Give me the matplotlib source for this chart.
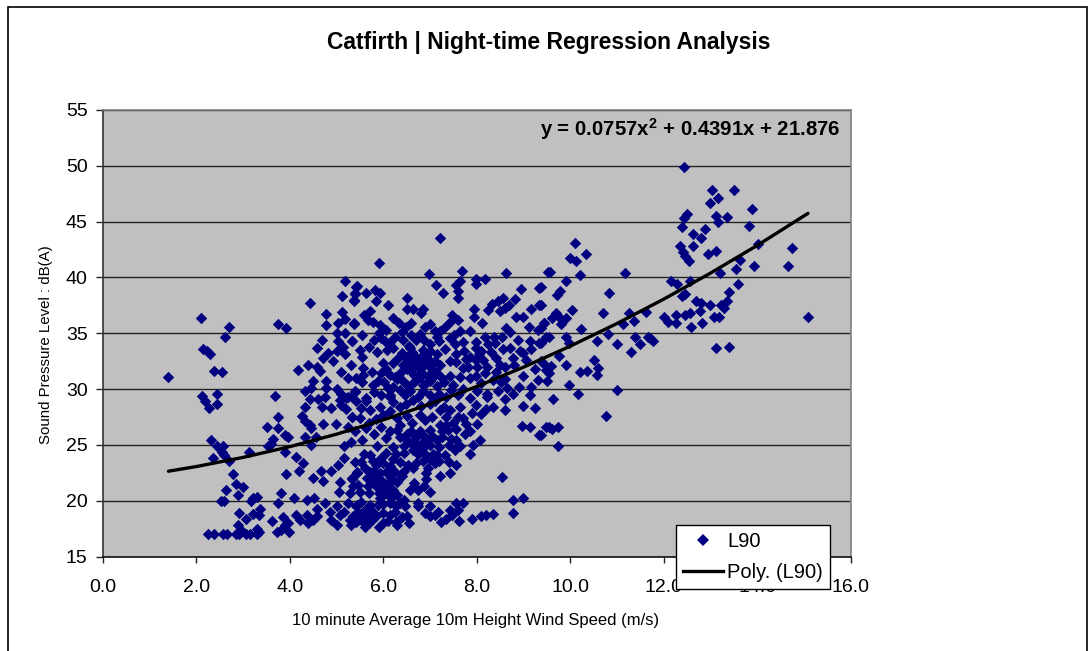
import matplotlib
matplotlib.use("Agg")
import matplotlib.pyplot as plt
from matplotlib.lines import Line2D
from matplotlib.patches import Rectangle

plt.rcParams['font.family'] = ['Liberation Sans', 'DejaVu Sans']
plt.rcParams['mathtext.fontset'] = 'custom'
plt.rcParams['mathtext.bf'] = 'Liberation Sans:bold'
plt.rcParams['mathtext.rm'] = 'Liberation Sans'

title = "Catfirth | Night-time Regression Analysis"
x_label = "10 minute Average 10m Height Wind Speed (m/s)"
y_label = "Sound Pressure Level : dB(A)"
equation = r"y = 0.0757x$^{\mathbf{2}}$ + 0.4391x + 21.876"
x_ticks = [0, 2, 4, 6, 8, 10, 12, 14, 16]
y_ticks = [15, 20, 25, 30, 35, 40, 45, 50, 55]

left_cluster = [
    (1.39,31.07),(2.09,36.4),(2.7,35.6),(2.15,33.6),(2.23,33.4),(2.3,33.1),(2.38,31.6),(2.55,31.5),(2.62,34.7),
    (2.11,29.4),(2.45,29.6),(2.18,28.9),(2.26,28.3),(2.45,28.7),(2.32,25.4),(2.43,24.9),(2.57,24.9),(2.54,24.4),
    (2.36,23.8),(2.6,24.1),(2.7,23.6),(2.79,22.4),(2.85,21.5),(3.0,21.2),(2.64,21.0),(2.9,20.5),(2.52,20.0),(2.6,20.0),
    (3.16,20.0),(3.3,20.3),(3.2,20.2),(2.92,18.9),(3.07,18.4),(3.2,18.8),(3.37,19.3),(3.34,18.7),(2.88,17.8),
    (2.25,17.0),(2.37,17.0),(2.56,17.0),(2.66,17.0),(2.84,17.0),(2.91,17.0),(3.07,17.0),(3.14,17.0),(3.29,17.0),(3.33,17.2),
    (3.29,17.5),(2.98,17.3),(3.62,18.2),(3.75,19.8),(3.82,20.7),(4.09,20.2),(3.86,18.5),(3.97,18.0),(3.72,17.2),(3.82,17.4),(3.98,17.2),(3.9,17.8),
    (3.69,29.4),(3.75,27.5),(3.51,26.6),(3.75,26.5),(3.63,25.5),(3.89,25.9),(3.96,25.7),(3.53,24.9),(3.6,25.1),(3.12,24.4),(3.89,24.4),
    (3.92,22.4),(4.2,22.7),(4.5,22.0),(4.66,22.7),(4.7,21.8),(4.14,23.9),(4.28,23.4),
    (3.75,35.8),(3.92,35.5),(4.44,37.7),(4.78,36.7),(5.12,36.9),(5.17,36.3),(5.03,35.9),(5.38,35.9),(4.78,35.7),
    (5.17,39.7),(5.42,39.1),(5.39,38.5),(5.12,38.3),(5.38,38.0),
    (5.0,35.0),(5.18,35.0),(5.32,34.3),(5.03,34.3),(5.14,33.8),(5.0,33.4),(5.18,33.1),(4.68,34.4),(4.57,33.7),(4.82,33.2),(4.71,32.8),
    (4.93,32.5),(4.38,32.2),(4.57,32.0),(4.18,31.7),(4.64,31.6),(4.49,30.7),(4.77,30.7),(4.78,30.1),(4.46,30.1),(4.32,29.8),(4.75,29.3),
    (4.44,29.1),(4.61,29.1),(5.0,30.0),(5.1,29.6),(5.25,29.3),(5.39,29.8),(5.07,29.0),(5.21,29.2),(4.68,28.4),(4.32,28.4),(4.88,28.3),(5.1,28.6),
    (5.32,27.5),(4.25,27.6),(4.32,27.1),(4.43,26.8),(4.46,26.5),(4.71,26.9),(4.98,26.9),(5.25,26.6),(4.32,25.7),(4.56,25.7),(4.46,25.0),(5.16,24.9),
    (5.03,23.2),(4.89,22.7),(5.08,21.7),(5.06,20.8),(5.32,22.0),(5.28,20.7),(5.43,22.5),(5.25,19.8),(4.75,19.8),(4.36,20.1),(4.51,20.2),(4.57,19.3),
    (4.86,19.0),(5.0,19.5),(5.07,18.7),(4.89,18.3),(5.0,17.8),(5.28,18.3),(5.46,18.3),(5.43,19.6),(4.14,18.7),(4.21,18.3),(4.36,18.7),(4.39,18.0),(4.57,18.6),(4.5,18.3),
]

upper_centre = [
    (7.21,43.5),(5.91,41.3),(6.98,40.3),(7.68,40.6),(8.63,40.4),(9.53,40.5),(7.12,39.3),(7.64,39.7),(7.55,39.3),(7.98,39.9),(7.98,39.4),(8.17,39.9),
    (7.28,38.6),(7.6,38.75),(7.6,38.15),(8.95,39.0),(9.33,39.05),(5.44,39.2),(5.39,38.65),(5.37,37.9),(5.62,38.6),(5.82,38.9),(5.92,38.6),(5.84,37.9),
    (6.11,37.5),(6.51,38.2),(6.51,37.2),(6.64,37.2),(6.84,37.2),(6.8,36.8),(7.94,37.2),(7.94,36.5),(8.24,37.05),(8.33,37.65),(8.56,38.15),(8.46,37.85),
    (8.69,37.55),(8.81,38.1),(8.6,37.25),(8.49,37.0),(8.83,36.5),(8.98,36.5),(9.17,37.2),(9.33,37.5),(9.11,35.6),(9.45,35.9),(9.31,35.3),(9.49,34.7),
    (5.72,37.0),(5.59,36.65),(5.67,36.2),(5.78,36.0),(5.38,35.8),(5.92,35.7),(5.91,35.0),(5.55,34.8),(5.34,34.3),(6.21,36.4),(6.34,35.9),(6.48,35.6),
    (6.99,35.8),(7.46,36.6),(7.6,36.15),(7.42,36.05),(7.31,35.6),(7.22,35.2),(8.11,35.9),(8.63,35.5),(8.72,35.1),(6.78,34.9),(6.71,34.4),(6.25,34.7),
    (6.42,34.4),(6.03,34.3),(7.01,34.0),(7.51,34.8),(7.42,34.6),(7.53,34.0),(7.98,34.2),(7.98,33.7),(8.17,34.7),(8.37,34.65),(8.24,34.0),(8.88,34.4),
    (9.13,34.3),(9.33,34.1),(9.17,33.6),(6.07,33.5),(6.21,33.7),(6.57,33.7),(6.39,33.2),(5.87,33.3),(5.55,32.9),(7.31,33.6),(7.14,33.1),(7.56,33.1),
    (8.31,33.3),(8.56,33.6),(8.71,33.7),(8.92,33.4),(6.0,32.3),(6.21,32.3),(6.53,32.6),(6.78,32.8),(6.99,32.5),(7.42,32.5),(7.78,32.7),(7.99,32.6),
    (8.14,32.6),(8.42,32.8),(8.78,32.8),(7.81,32.0),(8.6,32.0),(9.38,32.5),(5.57,31.9),(6.35,31.4),(6.57,31.7),(7.07,31.7),(7.21,32.2),(5.57,31.3),
    (5.89,30.7),(5.78,30.4),(5.55,30.6),(6.25,31.1),(6.78,31.1),(7.07,31.1),(7.42,31.2),(7.64,31.1),(7.99,31.2),(8.17,31.4),(8.41,31.5),(8.98,31.2),
    (9.49,31.7),(6.42,30.7),(6.64,30.5),(6.92,30.5),(6.21,30.2),(6.1,30.1),(7.49,30.4),(8.1,30.5),(8.51,30.6),(9.31,30.8),(9.17,30.2),(5.39,29.7),
    (5.32,29.3),(5.64,29.2),(6.14,29.5),(6.46,29.5),(6.85,29.8),(7.71,30.0),(8.21,29.6),(8.78,29.6),(9.13,29.5),
]

lower_centre = [
    (8.6,29.1),(8.98,28.5),(9.24,28.3),(8.6,28.1),(8.97,26.7),(9.15,26.6),(9.49,26.6),(9.33,25.9),(8.54,22.1),(8.78,20.1),(9.0,20.2),(8.78,18.9),
    (8.35,18.8),(8.2,18.7),(8.1,18.6),(7.89,18.4),(7.61,18.2),(7.71,19.8),(7.55,19.8),(7.6,19.2),(7.42,19.2),(7.46,18.7),(7.24,18.1),(7.35,18.4),
    (7.17,19.0),(6.99,19.5),(6.89,18.9),(6.99,18.6),(7.1,18.7),(6.51,18.6),(6.75,19.8),(6.57,21.0),(6.75,19.5),(6.99,20.8),(6.87,21.3),(6.92,21.9),
    (6.91,22.5),(7.21,22.2),(7.42,22.5),(7.56,23.2),(7.4,23.5),(7.31,24.1),(7.1,23.4),(6.64,22.9),(6.53,23.2),(7.85,24.2),(7.92,25.0),(8.06,25.4),
    (7.54,24.5),(7.56,25.4),(7.39,26.3),(7.74,26.0),(5.55,25.4),(5.87,24.9),(5.58,24.2),(6.21,24.8),(6.6,26.2),(6.78,26.2),(6.35,26.8),(6.14,26.2),
    (5.94,26.6),(6.71,25.1),(6.92,25.4),(7.14,25.4),(6.64,24.5),(6.85,24.7),(7.07,24.2),(6.35,25.7),(6.5,25.4),(6.28,24.2),(6.0,23.4),(5.78,23.6),
    (5.53,23.5),(5.43,22.6),(5.71,22.6),(5.92,22.5),(6.14,23.1),(6.39,22.2),(6.17,22.0),(5.85,22.0),(5.67,21.3),(5.85,21.3),(6.0,21.0),(6.21,21.0),
    (5.32,21.9),(5.35,21.3),(6.21,20.4),(5.92,20.2),(5.89,19.6),(6.35,19.8),(5.53,19.9),(5.42,19.5),(6.25,19.0),(6.0,18.9),(5.78,19.0),(5.64,18.7),
    (5.5,18.6),(5.57,18.1),(5.75,18.3),(6.0,18.0),(6.28,18.1),(6.14,18.7),(6.46,19.5),(7.21,28.1),(5.52,28.3),(5.71,28.1),(5.92,28.4),(6.0,27.7),
    (5.64,28.9),(6.14,29.3),(6.35,28.4),(6.64,29.0),(6.78,27.7),(6.99,28.7),(7.42,28.1),(7.64,28.4),(7.6,27.5),(7.99,28.6),(8.1,27.8),(8.21,29.3),
    (8.35,28.4),(7.78,26.9),(8.0,26.9),(7.21,26.8),(6.99,26.3),(5.33,27.5),
]

dense_core = [
    (6.55,33.9),(6.62,33.3),(6.7,32.9),(6.85,33.5),(6.92,33.0),(7.0,33.4),(6.48,32.9),(6.6,32.3),(6.72,32.1),(6.88,32.2),(7.02,31.9),(7.1,32.5),
    (6.3,32.7),(6.42,32.2),(6.5,31.8),(6.65,31.3),(6.8,31.5),(6.95,31.2),(7.15,31.4),(7.25,31.0),(6.3,30.9),(6.5,30.4),(6.7,30.8),(6.85,30.4),(7.0,30.7),(7.15,30.3),(7.3,30.6),
    (6.05,31.8),(6.15,31.3),(5.95,31.4),(6.02,30.6),(5.75,31.5),(6.35,29.9),(6.58,29.8),(6.75,29.3),(7.0,29.5),(7.2,29.6),(7.35,29.3),(6.2,28.8),(6.48,28.7),(6.8,28.5),(7.1,28.9),(7.3,28.4),
    (5.8,29.7),(5.95,29.5),(5.85,27.3),(6.15,28.0),(6.3,27.4),(6.5,27.6),(6.62,27.0),(6.9,27.2),(7.05,27.5),(7.35,27.5),(5.7,27.0),(5.5,27.4),(5.62,26.5),(5.8,26.0),(6.05,25.6),
    (6.3,26.3),(6.5,26.0),(6.7,25.7),(6.85,25.9),(7.05,25.8),(7.25,25.7),(6.45,24.9),(6.6,25.2),(6.8,25.1),(7.0,25.0),(7.2,24.8),(7.4,25.0),(6.75,24.2),(6.9,24.2),(7.15,24.1),(6.45,24.3),
    (6.85,23.6),(7.0,23.7),(6.7,23.4),(6.35,23.5),(6.2,23.7),(6.05,24.3),(5.85,23.2),(5.72,24.1),(5.95,23.8),(5.6,22.9),(5.8,22.7),(6.05,22.6),(6.25,22.6),(5.65,22.0),(5.97,21.8),(6.1,21.5),
    (5.75,21.9),(5.45,21.4),(5.5,20.8),(5.7,20.7),(5.9,20.7),(6.1,20.5),(6.3,20.5),(6.45,20.1),(6.15,19.8),(6.0,19.7),(6.28,19.5),(5.72,19.6),(5.62,19.3),(5.45,19.0),(5.35,18.6),
    (5.7,18.0),(5.85,18.6),(6.1,18.2),(6.4,18.5),(6.55,18.0),(5.42,18.1),(7.7,31.9),(7.55,32.4),(8.0,32.0),(7.72,33.4),(7.85,31.0),(8.22,32.0),(8.35,30.8),(8.6,30.9),(8.9,30.2),
    (5.5,33.5),(5.7,33.8),(5.8,34.4),(6.15,34.2),(5.95,34.6),(6.6,34.8),(6.88,34.4),(7.2,34.3),(7.15,34.7),(7.65,35.2),(6.4,35.1),(6.05,35.3),
    (7.45,29.9),(7.6,29.5),(7.85,29.2),(8.0,29.8),(8.45,29.8),(8.65,30.1),(7.5,27.0),(7.7,27.4),(7.9,27.9),(8.2,28.2),(7.35,26.8),(7.55,26.4),(7.85,26.2),(7.25,26.2),(7.45,25.5),(7.65,24.9),
    (7.2,23.6),(6.95,22.9),(6.65,21.6),(6.45,22.7),(6.3,21.7),(6.75,21.0),(7.85,32.9),(8.05,33.1),(8.5,32.2),(8.8,32.2),(9.05,32.6),(9.25,31.8),(9.0,33.2),(8.4,34.1),(8.55,34.7),(8.1,33.4),(7.7,34.2),(7.85,35.2),
    (7.1,35.2),(6.9,35.6),(6.6,35.9),(5.25,31.0),(5.1,31.5),(5.3,32.2),(5.42,31.0),(5.42,28.9),(5.2,28.2),(5.4,26.2),(5.3,25.3),(5.15,23.8),(5.4,23.5),(5.15,19.0),(5.3,17.8),(5.6,17.6),(5.9,17.6),(6.3,17.8),
]

right_side = [
    (10.11,43.05),(10.0,41.7),(10.13,41.5),(10.33,42.1),(9.57,40.5),(10.2,40.2),(9.9,39.7),(11.17,40.4),(10.83,38.6),(9.78,38.75),(9.72,38.45),(9.38,39.1),
    (9.38,37.5),(10.03,37.1),(10.7,36.8),(9.7,36.8),(9.6,36.4),(9.78,36.4),(9.92,36.4),(9.81,35.8),(9.45,35.9),(9.38,35.5),(10.24,35.4),(9.9,34.7),
    (9.54,34.7),(9.37,34.1),(9.97,34.1),(10.57,34.3),(10.81,34.9),(11.0,34.0),(11.12,35.8),(11.37,36.1),(11.26,36.8),(11.63,36.9),(11.38,34.7),(11.5,34.0),
    (11.3,33.3),(11.66,34.7),(11.72,34.5),(11.77,34.3),(9.75,33.0),(9.9,32.2),(9.42,32.3),(9.58,32.1),(9.55,31.4),(9.5,30.7),(10.5,32.6),(10.6,31.9),
    (10.2,31.5),(10.36,31.6),(10.57,31.3),(9.97,30.4),(10.17,29.6),(11.0,29.9),(9.63,29.1),(10.77,27.6),(9.54,26.6),(9.6,26.4),(9.74,26.6),(9.37,25.9),(9.74,24.9),
    (12.43,49.9),(13.03,47.8),(13.16,47.1),(13.5,47.8),(13.0,46.7),(13.9,46.1),(12.5,45.7),(12.43,45.3),(13.13,45.5),(13.16,45.0),(13.36,45.4),(12.39,44.5),
    (12.89,44.3),(12.63,43.9),(12.79,43.5),(13.83,44.6),(12.36,42.8),(12.63,42.8),(12.41,42.3),(12.46,41.9),(12.54,41.5),(12.96,42.1),(13.13,42.4),(14.02,43.0),
    (14.75,42.6),(14.66,41.0),(13.93,41.0),(13.64,41.6),(13.55,40.8),(13.2,40.4),(12.16,39.7),(12.29,39.4),(12.56,39.7),(12.45,38.5),(12.39,38.3),(13.59,39.4),
    (13.39,38.7),(12.7,37.9),(12.81,37.7),(13.0,37.55),(12.77,37.0),(13.36,37.9),(13.29,37.25),(13.22,37.5),(12.56,36.8),(12.46,36.65),(12.26,36.65),(12.0,36.5),
    (12.09,36.05),(12.27,35.9),(12.59,35.6),(12.83,35.9),(13.07,36.5),(13.18,36.45),(15.09,36.5),(13.13,33.7),(13.4,33.8),
]

trend_x = [1.4, 2, 3, 4, 5, 6, 7, 8, 9, 10, 11, 12, 13, 14, 15.09]
trend_y = [22.64, 23.06, 23.88, 24.84, 25.96, 27.24, 28.66, 30.23, 31.96, 33.84, 35.87, 38.05, 40.38, 42.86, 45.74]

readings = left_cluster + upper_centre + lower_centre + dense_core + right_side
wind_speed = [r[0] for r in readings]
l90 = [r[1] for r in readings]

W, H = 1088, 651
fig = plt.figure(figsize=(W / 100, H / 100), dpi=100, facecolor='white')
fig.add_artist(Rectangle((8 / W, -0.01), 1078.5 / W, 1 - 7 / H + 0.01, transform=fig.transFigure,
                         fill=False, edgecolor='black', linewidth=1.2))

ax = fig.add_axes([103 / W, 1 - 556.5 / H, 747.5 / W, 446.5 / H])
ax.set_facecolor('#C0C0C0')
ax.set_xlim(0, 16)
ax.set_ylim(15, 55)
ax.set_xticks(x_ticks, [f"{v:.1f}" for v in x_ticks], fontsize=14)
ax.set_yticks(y_ticks, [str(v) for v in y_ticks], fontsize=14)
ax.tick_params(axis='x', length=4.5, width=1, color='#222222', pad=11.5)
ax.tick_params(axis='y', length=5, width=1, color='#222222', pad=6)
ax.grid(axis='y', color='#222222', linewidth=1.0, zorder=1)
ax.set_axisbelow(True)
for side, colour in (('top', '#808080'), ('right', '#808080'), ('left', '#333333'), ('bottom', '#111111')):
    ax.spines[side].set_color(colour)
    ax.spines[side].set_linewidth(1.2)

ax.scatter(wind_speed, l90, marker='D', s=34, color='#000080', linewidths=0, zorder=3, clip_on=False)
ax.plot(trend_x, trend_y, color='black', linewidth=2.4, zorder=4, solid_capstyle='round')

ax.text(840.5 / W, 1 - 129.5 / H, equation, transform=fig.transFigure, ha='right', va='center',
        fontsize=14.7, fontweight='bold', color='black', zorder=6)
fig.text(548.5 / W, 1 - 42 / H, title, ha='center', va='center', fontsize=16.5, fontweight='bold')
fig.text(475.5 / W, 1 - 620 / H, x_label, ha='center', va='center', fontsize=12)
fig.text(46 / W, 1 - 345 / H, y_label, ha='center', va='center', rotation=90, fontsize=10.8)

handles = [
    Line2D([], [], linestyle='none', marker='D', markersize=5.8, markerfacecolor='#000080', markeredgewidth=0),
    Line2D([], [], color='black', linewidth=2.4),
]
leg = ax.legend(handles, ['L90', 'Poly. (L90)'], loc='lower left',
                bbox_to_anchor=(676 / W, 1 - 589 / H), bbox_transform=fig.transFigure,
                fontsize=14.5, frameon=True, fancybox=False, framealpha=1, facecolor='white',
                edgecolor='black', borderaxespad=0, borderpad=0.35, labelspacing=0.6,
                handlelength=2.0, handletextpad=0.2)
leg.get_frame().set_linewidth(1.0)
leg.set_zorder(10)

fig.savefig('out.png', dpi=100, facecolor='white')
